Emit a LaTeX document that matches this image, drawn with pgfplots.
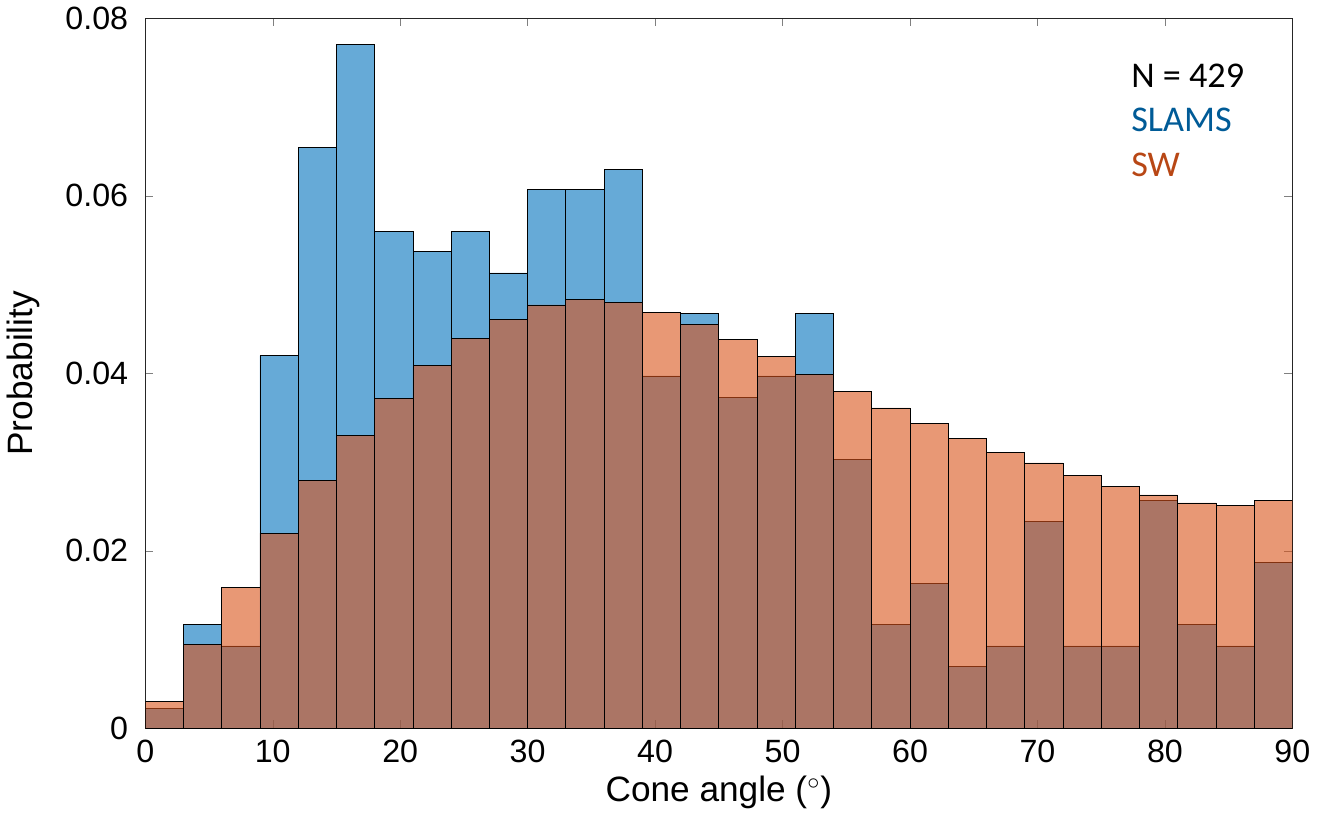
\documentclass[border=0pt]{standalone}
\usepackage{pgfplots}
\pgfplotsset{compat=1.18}
\usepackage{fontspec}
\setmainfont{Liberation Sans}
\newfontfamily\calfont{Carlito}
\definecolor{mblue}{RGB}{0,114,189}
\definecolor{morange}{RGB}{217,83,25}
\begin{document}
\begin{tikzpicture}
\begin{axis}[
 scale only axis, width=570pt, height=353pt,
 xmin=0, xmax=90, ymin=0, ymax=0.08,
 xtick={0,10,...,90}, ytick={0,0.02,0.04,0.06,0.08},
 yticklabels={0,0.02,0.04,0.06,0.08}, scaled y ticks=false,
 /pgf/number format/assume math mode=true,
 tick label style={font=\fontsize{16}{18}\selectfont},
 yticklabel style={xshift=-5pt},
 xticklabel style={yshift=-2pt},
 label style={font=\fontsize{17.5}{20}\selectfont},
 ylabel style={yshift=6pt},
 xlabel={Cone angle ($^\circ$)}, ylabel={Probability},
 tick align=inside, tick pos=both, axis line style={black!85},
 major tick length=4pt,
]
\addplot[ybar interval, fill=mblue, fill opacity=0.6, draw=black, draw opacity=1] coordinates {
(0,0.0023)(3,0.0117)(6,0.0093)(9,0.042)(12,0.0654)(15,0.077)(18,0.056)(21,0.0537)(24,0.056)(27,0.0513)
(30,0.0607)(33,0.0607)(36,0.063)(39,0.0397)(42,0.0467)(45,0.0373)(48,0.0397)(51,0.0467)(54,0.0303)(57,0.0117)
(60,0.0163)(63,0.007)(66,0.0093)(69,0.0233)(72,0.0093)(75,0.0093)(78,0.0257)(81,0.0117)(84,0.0093)(87,0.0187)(90,0.0187)};
\addplot[ybar interval, fill=morange, fill opacity=0.6, draw=black, draw opacity=1] coordinates {
(0,0.003)(3,0.0095)(6,0.0159)(9,0.022)(12,0.0279)(15,0.033)(18,0.0372)(21,0.0409)(24,0.0439)(27,0.0461)
(30,0.0477)(33,0.0483)(36,0.048)(39,0.0469)(42,0.0455)(45,0.0438)(48,0.0419)(51,0.0399)(54,0.038)(57,0.0361)
(60,0.0344)(63,0.0327)(66,0.0311)(69,0.0299)(72,0.0285)(75,0.0273)(78,0.0263)(81,0.0254)(84,0.0251)(87,0.0257)(90,0.0257)};
\node[anchor=west,font=\calfont\fontsize{18}{20}\selectfont] at (axis cs:76.8,0.0735) {N = 429};
\node[anchor=west,font=\calfont\fontsize{18}{20}\selectfont,text=mblue!80!black] at (axis cs:76.8,0.0685) {SLAMS};
\node[anchor=west,font=\calfont\fontsize{18}{20}\selectfont,text=morange!85!black] at (axis cs:76.8,0.0635) {SW};
\end{axis}
\end{tikzpicture}
\end{document}
